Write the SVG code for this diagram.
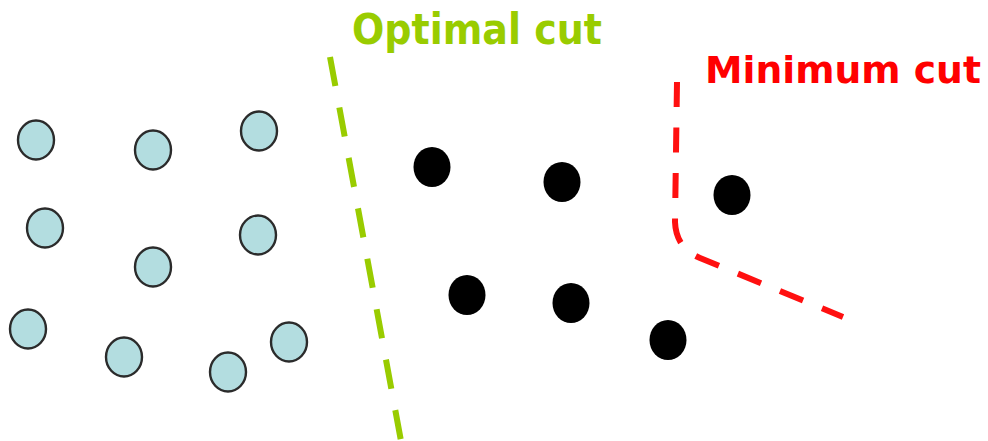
<svg xmlns="http://www.w3.org/2000/svg" width="988" height="441" viewBox="0 0 988 441">
  <style>
    .light { fill: #b3dde0; stroke: #2b2b2b; stroke-width: 2.4; }
    .dark { fill: #000000; }
    .label { font-family: "DejaVu Sans", Verdana, sans-serif; font-weight: bold; }
    .cut { fill: none; stroke-width: 6; }
  </style>
  <rect width="988" height="441" fill="#ffffff"/>

  <!-- cut lines -->
  <g id="connectors">
    <path id="optimal-cut" class="cut" d="M330,57 L401,441" stroke="#99cc00" stroke-dasharray="29.5,21.8"/>
    <path id="minimum-cut" class="cut" d="M677,82 L675,222 Q676,248 700,258 L843,317" stroke="#ff1010" stroke-dasharray="25,20.5"/>
  </g>

  <!-- labels -->
  <text id="optimal-label" class="label" x="352" y="44" font-size="42" fill="#99cc00" textLength="250" lengthAdjust="spacingAndGlyphs">Optimal cut</text>
  <text id="minimum-label" class="label" x="705" y="82.5" font-size="38" fill="#ff0000" textLength="276" lengthAdjust="spacingAndGlyphs">Minimum cut</text>

  <!-- light nodes -->
  <g id="n1"><ellipse class="light" cx="36" cy="140" rx="18" ry="19.5"/></g>
  <g id="n2"><ellipse class="light" cx="153" cy="150" rx="18" ry="19.5"/></g>
  <g id="n3"><ellipse class="light" cx="259" cy="131" rx="18" ry="19.5"/></g>
  <g id="n4"><ellipse class="light" cx="45" cy="228" rx="18" ry="19.5"/></g>
  <g id="n5"><ellipse class="light" cx="153" cy="267" rx="18" ry="19.5"/></g>
  <g id="n6"><ellipse class="light" cx="258" cy="235" rx="18" ry="19.5"/></g>
  <g id="n7"><ellipse class="light" cx="28" cy="329" rx="18" ry="19.5"/></g>
  <g id="n8"><ellipse class="light" cx="124" cy="357" rx="18" ry="19.5"/></g>
  <g id="n9"><ellipse class="light" cx="228" cy="372" rx="18" ry="19.5"/></g>
  <g id="n10"><ellipse class="light" cx="289" cy="342" rx="18" ry="19.5"/></g>

  <!-- dark nodes -->
  <g id="d1"><ellipse class="dark" cx="432" cy="167" rx="18.5" ry="20"/></g>
  <g id="d2"><ellipse class="dark" cx="562" cy="182" rx="18.5" ry="20"/></g>
  <g id="d3"><ellipse class="dark" cx="467" cy="295" rx="18.5" ry="20"/></g>
  <g id="d4"><ellipse class="dark" cx="571" cy="303" rx="18.5" ry="20"/></g>
  <g id="d5"><ellipse class="dark" cx="732" cy="195" rx="18.5" ry="20"/></g>
  <g id="d6"><ellipse class="dark" cx="668" cy="340" rx="18.5" ry="20"/></g>
</svg>
